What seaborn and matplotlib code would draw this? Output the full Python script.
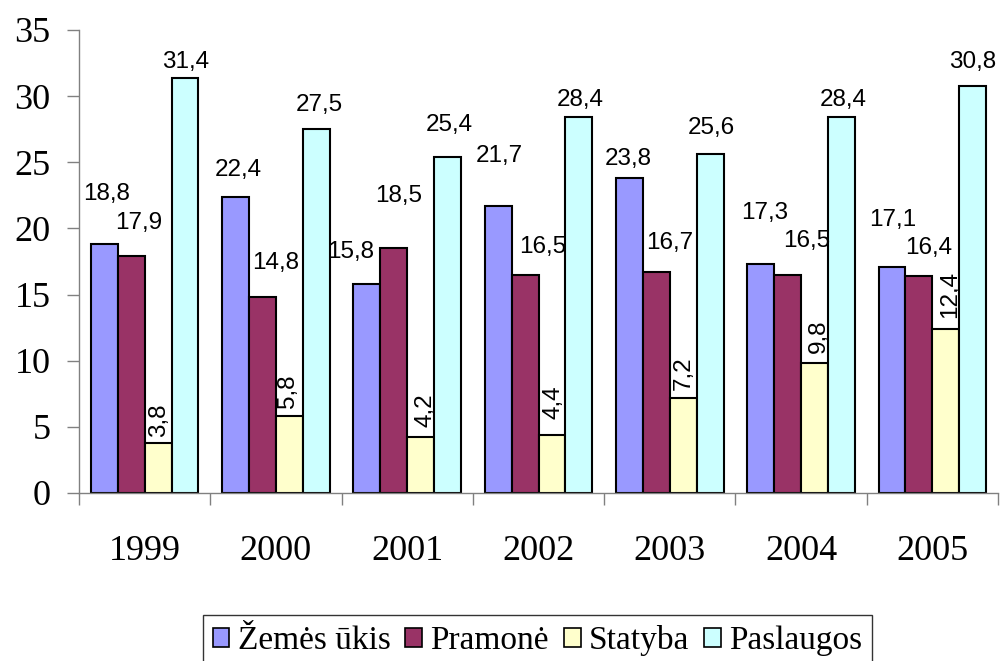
import pandas as pd
import matplotlib
matplotlib.use("Agg")
import matplotlib.pyplot as plt
import seaborn as sns

# data
years = ["1999", "2000", "2001", "2002", "2003", "2004", "2005"]
sectors = ["Žemės ūkis", "Pramonė", "Statyba", "Paslaugos"]
zemes_ukis = [18.8, 22.4, 15.8, 21.7, 23.8, 17.3, 17.1]
pramone = [17.9, 14.8, 18.5, 16.5, 16.7, 16.5, 16.4]
statyba = [3.8, 5.8, 4.2, 4.4, 7.2, 9.8, 12.4]
paslaugos = [31.4, 27.5, 25.4, 28.4, 25.6, 28.4, 30.8]

colors = ["#9999FF", "#993366", "#FFFFCC", "#CCFFFF"]

# label placement (pixels from bar top centre), hand-placed like the original
label_offsets = [
    [(2, 50), (3, 27), (-16, 32), (1.5, 50), (-1.5, 19), (4, 51), (1, 47)],
    [(8, 33), (13, 34), (4.5, 52), (18, 28), (13, 29), (19, 34), (10, 28)],
    [(1, 22), (-1, 25), (5, 27), (2, 33), (1, 25), (4, 27), (4, 34)],
    [(1, 16), (3, 24), (2, 32), (1, 17), (1.5, 26), (2, 17), (0, 24)],
]

values = [zemes_ukis, pramone, statyba, paslaugos]
df = pd.DataFrame(
    [(y, s, v) for s, vals in zip(sectors, values) for y, v in zip(years, vals)],
    columns=["Metai", "Sektorius", "Reiksme"],
)

sns.set_theme(style="white")
plt.rcParams["font.family"] = ["Liberation Serif", "DejaVu Serif"]

fig = plt.figure(figsize=(10, 6.61), dpi=100)
ax = fig.add_axes([0.079, 0.2542, 0.919, 0.7005])

sns.barplot(
    data=df, x="Metai", y="Reiksme", hue="Sektorius",
    hue_order=sectors, order=years, palette=colors,
    edgecolor="black", linewidth=1.5, width=0.82, saturation=1,
    errorbar=None, ax=ax,
)

# value labels
for k, cont in enumerate(ax.containers):
    for i, bar in enumerate(cont):
        v = bar.get_height()
        dx, dy = label_offsets[k][i]
        ax.annotate(
            f"{v:.1f}".replace(".", ","),
            xy=(bar.get_x() + bar.get_width() / 2, v),
            xytext=(dx, dy), textcoords="offset pixels",
            ha="center", va="center", fontsize=17.5, color="black",
            family=["Liberation Sans", "DejaVu Sans"],
            rotation=90 if k == 2 else 0,
        )

ax.set_ylim(0, 35)
ax.set_xlim(-0.5, 6.5)
ax.set_yticks(range(0, 36, 5))
ax.set_xlabel("")
ax.set_ylabel("")

for side in ["top", "right"]:
    ax.spines[side].set_visible(False)
for side in ["left", "bottom"]:
    ax.spines[side].set_color("#808080")
    ax.spines[side].set_linewidth(1.0)

# year labels in the middle, tick marks on category borders
ax.set_xticks(range(len(years)))
ax.set_xticklabels(years)
ax.set_xticks([i - 0.5 for i in range(len(years) + 1)], minor=True)
ax.tick_params(axis="x", which="major", length=0, pad=30, labelsize=26,
               labelcolor="black")
ax.tick_params(axis="x", which="minor", length=8.6, width=1, color="#808080",
               direction="out", bottom=True)
ax.tick_params(axis="y", length=8.6, width=1, color="#808080", direction="out",
               left=True, pad=12, labelsize=26, labelcolor="black")

ax.legend_.remove()
handles = [plt.Rectangle((0, 0), 1, 1, facecolor=c, edgecolor="black", linewidth=1.2)
           for c in colors]
leg = fig.legend(
    handles, sectors, loc="upper center", bbox_to_anchor=(0.5375, 0.0696),
    ncol=4, fontsize=24, frameon=True, fancybox=False, edgecolor="black",
    handlelength=0.5, handleheight=0.5, handletextpad=0.25, columnspacing=0.45,
    borderpad=0.3, borderaxespad=0, labelcolor="black",
)
leg.get_frame().set_linewidth(1.0)

fig.savefig("out.png", dpi=100, facecolor="white")
